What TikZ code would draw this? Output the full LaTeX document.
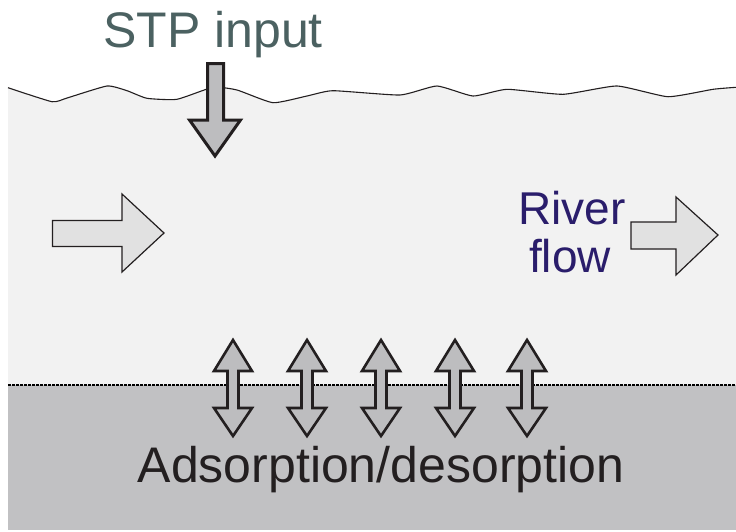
\documentclass[tikz,border=0pt]{standalone}
\usepackage{fontspec}
\setmainfont{Liberation Sans}
\begin{document}
\begin{tikzpicture}[x=1pt,y=-1pt,
  outline/.style={draw=edgec,line join=miter,miter limit=10},
  flowarrow/.style={outline,fill=flowc,line width=1.2pt},
  exarrow/.style={outline,fill=arrowc,line width=2.6pt},
  label/.style={inner sep=0pt,anchor=base,font=\fontsize{50}{58}\selectfont}]
\definecolor{waterc}{HTML}{F2F2F2}
\definecolor{sedc}{HTML}{C1C1C3}
\definecolor{arrowc}{HTML}{BDBDBF}
\definecolor{flowc}{HTML}{E1E1E1}
\definecolor{edgec}{HTML}{231F20}
\definecolor{stpc}{HTML}{4B6161}
\definecolor{riverc}{HTML}{2A1D6B}
\definecolor{textc}{HTML}{231F20}
\useasboundingbox (0,0) rectangle (736,531);
\fill[white] (0,0) rectangle (736,531);
% water surface profile
\def\surface{(8,87.7) (52,101.7) (67,98) (107,86) (127,90.7) (147,98.3) (177,99.3) (213,87.3) (237,90) (273,102.7) (307,96) (333,90.7) (400,95) (437,86) (473,96) (507,89.3) (563,94.3) (617,86) (668,96.7) (713,89.3) (736,87.3)}
\fill[waterc] plot[smooth,tension=0.3] coordinates \surface -- (736,385) -- (8,385) -- cycle;
\fill[sedc] (8,385) rectangle (736,530);
\draw[edgec,line width=1.1pt] plot[smooth,tension=0.3] coordinates \surface;
% sediment boundary
\draw[black,line width=1.3pt,dash pattern=on 2.6pt off 1.4pt] (8,385) -- (736,385);
% STP input arrow
\draw[exarrow,line width=3pt] (207.5,63.5) -- (223.5,63.5) -- (223.5,120) -- (240.5,120)
  -- (215,156) -- (189.5,120) -- (207.5,120) -- cycle;
% river flow arrows
\draw[flowarrow] (52.5,220.5) -- (122,220.5) -- (122,194) -- (164,233) -- (122,272)
  -- (122,246.5) -- (52.5,246.5) -- cycle;
\draw[flowarrow] (631,222) -- (676,222) -- (676,197) -- (718,235) -- (676,275)
  -- (676,249) -- (631,249) -- cycle;
% adsorption/desorption exchange arrows
\foreach \cx in {233,307,381,455,527}{
  \draw[exarrow] (\cx,340) -- ++(19,31) -- ++(-13.5,0) -- ++(0,37) -- ++(13.5,0)
    -- (\cx,436) -- ++(-19,-28) -- ++(13.5,0) -- ++(0,-37) -- ++(-13.5,0) -- cycle;
}
% labels
\node[label,text=stpc] (stp) at (213,47) {STP input};
\node[label,text=riverc,font=\fontsize{46}{54}\selectfont] (river) at (572,224) {River};
\node[label,text=riverc,font=\fontsize{46}{54}\selectfont] (flow) at (570,272) {flow};
\node[label,text=textc] (ads) at (381,482) {Adsorption/desorption};
\end{tikzpicture}
\end{document}
